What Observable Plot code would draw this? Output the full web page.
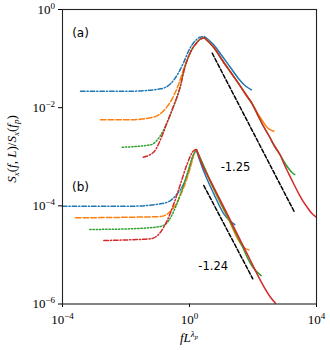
<!DOCTYPE html>
<html><head><meta charset="utf-8">
<script src="https://cdn.jsdelivr.net/npm/d3@7"></script>
<script src="https://cdn.jsdelivr.net/npm/@observablehq/plot@0.6"></script>
<style>body{margin:0;background:#fff}#chart{width:330px;height:350px}</style>
</head><body><div id="chart"></div>
<script>
// All points are [log10(f L^λp), log10(Sx(f,L)/Sx(fp))].
// Panel (a)
const aBlueRise = [[-3.433,-1.665],[-1.858,-1.665],[-0.913,-1.616],[-0.598,-1.514],[-0.337,-1.278],[-0.180,-1.074],[-0.022,-0.835],[0.189,-0.632],[0.331,-0.566],[0.472,-0.550]];
const aBlueFall = [[0.472,-0.550],[0.756,-0.713],[1.039,-0.958],[1.291,-1.182],[1.543,-1.406],[1.764,-1.559],[1.953,-1.636]];
const aOrangeRise = [[-2.803,-2.247],[-1.858,-2.247],[-1.124,-2.194],[-0.809,-2.058],[-0.545,-1.819],[-0.337,-1.514],[-0.180,-1.208],[0.031,-0.870],[0.243,-0.666],[0.346,-0.601],[0.472,-0.581]];
const aOrangeFall = [[0.472,-0.581],[0.756,-0.764],[1.039,-1.039],[1.291,-1.273],[1.553,-1.514],[1.764,-1.722],[1.975,-1.921],[2.132,-2.099],[2.290,-2.262],[2.394,-2.363],[2.498,-2.431],[2.655,-2.480]];
const aGreenRise = [[-2.120,-2.806],[-1.228,-2.757],[-0.913,-2.567],[-0.702,-2.296],[-0.494,-1.956],[-0.283,-1.549],[-0.173,-1.243],[0.031,-0.870],[0.243,-0.666],[0.346,-0.601],[0.472,-0.581]];
const aGreenFall = [[0.472,-0.581],[0.756,-0.764],[1.039,-1.039],[1.291,-1.273],[1.553,-1.514],[1.764,-1.722],[1.975,-1.921],[2.132,-2.125],[2.299,-2.343],[2.498,-2.567],[2.677,-2.781],[2.866,-2.975],[2.992,-3.117],[3.128,-3.246],[3.228,-3.321],[3.317,-3.362]];
const aRedRise = [[-1.458,-3.009],[-1.124,-2.903],[-0.860,-2.567],[-0.702,-2.296],[-0.494,-1.956],[-0.283,-1.549],[-0.173,-1.243],[0.031,-0.870],[0.243,-0.666],[0.346,-0.601],[0.472,-0.581]];
const aRedFall = [[0.472,-0.581],[0.756,-0.764],[1.039,-1.039],[1.291,-1.273],[1.553,-1.514],[1.764,-1.722],[1.975,-1.921],[2.132,-2.125],[2.299,-2.343],[2.498,-2.567],[2.677,-2.781],[2.866,-2.975],[2.992,-3.168],[3.128,-3.348],[3.285,-3.555],[3.443,-3.755],[3.575,-3.902],[3.707,-4.028],[3.865,-4.163],[3.991,-4.232]];
// Panel (b)
const bBlueRise = [[-4.0,-4.008],[-1.858,-4.008],[-0.913,-3.959],[-0.598,-3.892],[-0.387,-3.755],[-0.180,-3.551],[-0.022,-3.280],[0.085,-3.042],[0.211,-2.859]];
const bBlueFall = [[0.211,-2.859],[0.400,-3.213],[0.765,-3.755],[1.080,-4.163],[1.260,-4.299],[1.427,-4.381]];
const bOrangeRise = [[-3.591,-4.244],[-1.858,-4.232],[-0.913,-4.218],[-0.598,-4.110],[-0.387,-3.926],[-0.180,-3.621],[0.031,-3.213],[0.189,-2.873],[0.220,-2.859]];
const bOrangeFall = [[0.220,-2.859],[0.346,-3.042],[0.765,-3.667],[1.187,-4.218],[1.606,-4.768],[1.732,-4.859],[1.868,-4.896]];
const bGreenRise = [[-3.140,-4.482],[-1.858,-4.468],[-0.913,-4.421],[-0.652,-4.299],[-0.441,-4.028],[-0.283,-3.755],[-0.072,-3.348],[0.135,-2.940],[0.220,-2.859]];
const bGreenFall = [[0.220,-2.859],[0.346,-3.042],[0.765,-3.647],[1.187,-4.197],[1.606,-4.747],[1.921,-5.175],[2.079,-5.318],[2.258,-5.420]];
const bRedRise = [[-2.699,-4.707],[-1.858,-4.692],[-1.228,-4.672],[-0.913,-4.537],[-0.702,-4.299],[-0.494,-3.959],[-0.283,-3.551],[-0.072,-3.144],[0.135,-2.873],[0.220,-2.852]];
const bRedFall = [[0.220,-2.852],[0.346,-3.077],[0.765,-3.621],[1.187,-4.163],[1.606,-4.707],[1.921,-5.114],[2.236,-5.522],[2.551,-5.862],[2.709,-5.984]];
// Reference power-law slopes
const refA = [[0.715,-0.890],[3.307,-4.130]];
const refB = [[0.450,-3.586],[1.994,-5.487]];
const slopeLabels = ["-1.25", "-1.24"];
const slopeLabelPos = [[1.449,-3.213],[0.746,-5.236]];
const panelLabels = ["(a)", "(b)"];
const panelLabelPos = [[-3.433,-0.475],[-3.433,-3.621]];
const xTicks = [-4, 0, 4];
const yTicks = [0, -2, -4, -6];

const colors = ["#1f77b4", "#ff7f0e", "#2ca02c", "#d62728"];
const dashes = ["4.5,2,1.2,2", "5.5,2.2", "1.3,1.9", "4.5,2,1.2,2"];

const rows = arr => arr.map(([lx, ly]) => ({x: 10 ** lx, y: 10 ** ly}));
const curves = [
  [aBlueRise, 0, true], [aBlueFall, 0, false],
  [aOrangeRise, 1, true], [aOrangeFall, 1, false],
  [aGreenRise, 2, true], [aGreenFall, 2, false],
  [aRedRise, 3, true], [aRedFall, 3, false],
  [bBlueRise, 0, true], [bBlueFall, 0, false],
  [bOrangeRise, 1, true], [bOrangeFall, 1, false],
  [bGreenRise, 2, true], [bGreenFall, 2, false],
  [bRedRise, 3, true], [bRedFall, 3, false]
];

const marks = [];
for (const [pts, c, dashed] of curves) {
  const opts = {x: "x", y: "y", stroke: colors[c], strokeWidth: 1.5, curve: "monotone-x"};
  if (dashed) opts.strokeDasharray = dashes[c];
  marks.push(Plot.line(rows(pts), opts));
}
for (const ref of [refA, refB]) {
  marks.push(Plot.line(rows(ref), {x: "x", y: "y", stroke: "#000", strokeWidth: 1.5, strokeDasharray: "4,2"}));
}
const textRows = (labels, pos) => labels.map((t, i) => ({t, x: 10 ** pos[i][0], y: 10 ** pos[i][1]}));
marks.push(Plot.text(textRows(slopeLabels, slopeLabelPos), {x: "x", y: "y", text: "t", fontSize: 11.5, fontFamily: "DejaVu Sans", fill: "#000"}));
marks.push(Plot.text(textRows(panelLabels, panelLabelPos), {x: "x", y: "y", text: "t", fontSize: 12, fontFamily: "DejaVu Sans", fill: "#000"}));

const fmt = d => "10^" + Math.round(Math.log10(d));
marks.push(Plot.axisX({ticks: xTicks.map(e => 10 ** e), tickFormat: fmt, tickSize: 3.5, tickPadding: 7, label: null, fontSize: 13}));
marks.push(Plot.axisY({ticks: yTicks.map(e => 10 ** e), tickFormat: fmt, tickSize: 4, tickPadding: 3.5, label: null, fontSize: 13}));
marks.push(Plot.frame({stroke: "#222", strokeWidth: 1.1}));

const svg = Plot.plot({
  width: 330, height: 350,
  marginLeft: 62, marginRight: 14, marginTop: 9, marginBottom: 46.5,
  x: {type: "log", domain: [1e-4, 1e4]},
  y: {type: "log", domain: [1e-6, 1]},
  style: {fontFamily: "Liberation Serif", color: "#000", background: "#fff", overflow: "visible"},
  marks
});

const ns = "http://www.w3.org/2000/svg";
svg.querySelectorAll('g[aria-label="x-axis tick label"] text, g[aria-label="y-axis tick label"] text').forEach(t => {
  const [b, e] = t.textContent.split("^");
  t.textContent = "";
  const t1 = document.createElementNS(ns, "tspan"); t1.textContent = b; t.appendChild(t1);
  const t2 = document.createElementNS(ns, "tspan"); t2.textContent = e.replace("-", "\u2212");
  t2.setAttribute("dy", "-5"); t2.setAttribute("font-size", "9"); t.appendChild(t2);
});

function rich(parent, parts) {
  for (const [s, opt] of parts) {
    const ts = document.createElementNS(ns, "tspan");
    ts.textContent = s;
    if (opt.i) ts.setAttribute("font-style", "italic");
    if (opt.dy) ts.setAttribute("dy", opt.dy);
    if (opt.fs) ts.setAttribute("font-size", opt.fs);
    parent.appendChild(ts);
  }
}
const yl = document.createElementNS(ns, "text");
yl.setAttribute("transform", "translate(15.5,149) rotate(-90)");
yl.setAttribute("text-anchor", "middle");
yl.setAttribute("font-size", "13");
yl.setAttribute("font-family", "Liberation Serif");
yl.setAttribute("fill", "#000");
rich(yl, [["S", {i: 1}], ["x", {i: 1, dy: 3, fs: 9}], ["(", {dy: -3}], ["f", {i: 1}], [", ", {}], ["L", {i: 1}], [")/", {}],
  ["S", {i: 1}], ["x", {i: 1, dy: 3, fs: 9}], ["(", {dy: -3}], ["f", {i: 1}], ["p", {i: 1, dy: 3, fs: 9}], [")", {dy: -3}]]);
svg.appendChild(yl);

const xl = document.createElementNS(ns, "text");
xl.setAttribute("x", 189); xl.setAttribute("y", 342);
xl.setAttribute("text-anchor", "middle");
xl.setAttribute("font-size", "13");
xl.setAttribute("font-family", "Liberation Serif");
xl.setAttribute("fill", "#000");
rich(xl, [["f", {i: 1}], ["L", {i: 1}], ["\u03bb", {i: 1, dy: -5, fs: 9}], ["p", {i: 1, dy: 2, fs: 6.5}]]);
svg.appendChild(xl);

document.getElementById("chart").appendChild(svg);
</script>
</body></html>
